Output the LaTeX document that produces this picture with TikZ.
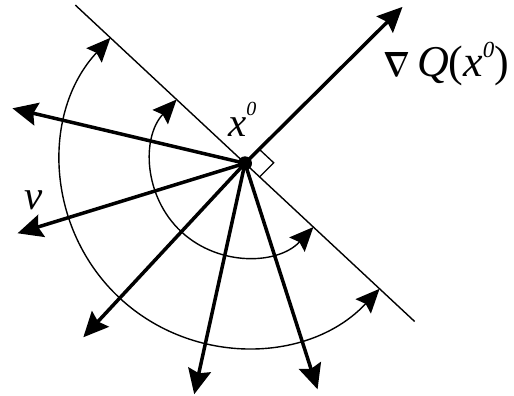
\documentclass[tikz,border=0pt]{standalone}
\usepackage{fontspec}
\setmainfont{Liberation Serif}
\usetikzlibrary{arrows.meta}
\begin{document}
\begin{tikzpicture}[x=1pt,y=1pt,
  bigtip/.tip={Stealth[length=25pt,width=23pt,inset=3.5pt]},
  arctip/.tip={Stealth[length=24pt,width=21pt,inset=3.5pt]},
  thickarrow/.style={line width=3.5pt,-bigtip},
  thinline/.style={line width=1.4pt},
  arcarrow/.style={line width=1.4pt,arctip-arctip},
  lbl/.style={inner sep=0pt}]
\useasboundingbox (-245,-232.7) rectangle (269,163.3);
% points
\coordinate (O) at (0,0);
\coordinate (T1) at (137:232);
\coordinate (T2) at (-43:232);
\coordinate (G) at (44.8:222);
\coordinate (A1) at (166.7:239);
\coordinate (A2) at (197.1:238);
\coordinate (A3) at (227.1:237.5);
\coordinate (A4) at (257.6:236.5);
\coordinate (A5) at (287.8:237.4);
\coordinate (R1) at (45:20);
\coordinate (R3) at (-43:20);
% tangent line
\draw[thinline] (T1) -- (T2);
% arcs
\draw[arcarrow] (137:93.5) arc[start angle=137,end angle=317,radius=93.5];
\draw[arcarrow] (137:184) arc[start angle=137,end angle=317,radius=184];
% right angle mark
\draw[line width=1.3pt] (R1) -- ++(-43:20) -- (R3);
% arrows
\draw[thickarrow] (O) -- (G);
\draw[thickarrow] (O) -- (A1);
\draw[thickarrow] (O) -- (A2);
\draw[thickarrow] (O) -- (A3);
\draw[thickarrow] (O) -- (A4);
\draw[thickarrow] (O) -- (A5);
\fill (O) circle[radius=7];
% labels
\node[lbl,anchor=base west] (lx) at (-17,26.3)
  {\fontsize{41}{41}\selectfont\textit{x}\raisebox{21pt}{\fontsize{20}{20}\selectfont\textit{0}}};
\node[lbl,anchor=base west] (lg) at (138,87)
  {\scalebox{2.8}[3.5]{\boldmath$\nabla$}\hspace{7pt}\fontsize{44}{44}\selectfont\textit{Q}(\textit{x}\raisebox{19pt}{\fontsize{23}{23}\selectfont\textit{0}})};
\node[lbl,anchor=base] (lv) at (-211,-46.7)
  {\fontsize{41}{41}\selectfont\textit{v}};
\end{tikzpicture}
\end{document}
